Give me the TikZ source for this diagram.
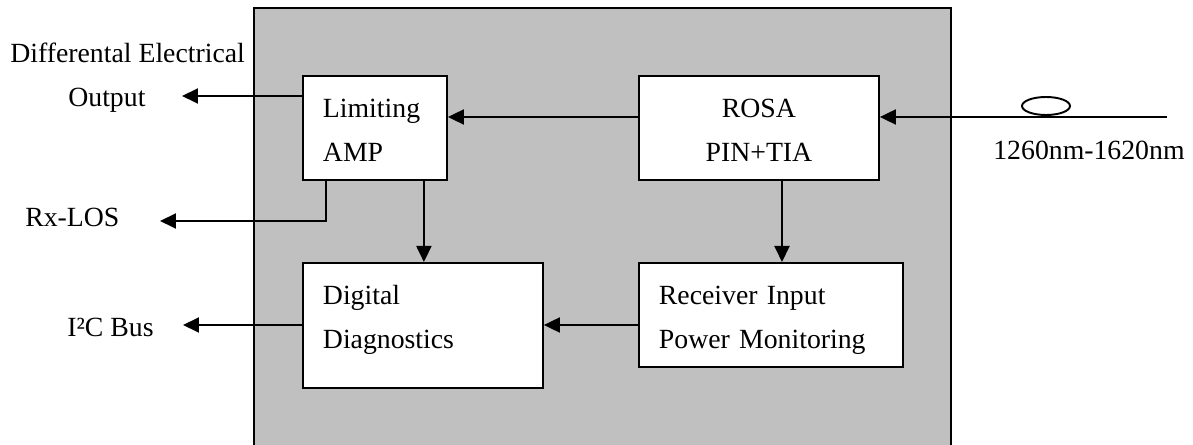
\documentclass[tikz,border=0pt]{standalone}
\usepackage{fontspec}
\setmainfont{Liberation Serif}
\usetikzlibrary{shapes.geometric,arrows.meta,calc}
\definecolor{panelgray}{RGB}{192,192,192}
\tikzstyle{block}=[draw, fill=white, line width=1.1pt, anchor=north west, inner xsep=0.4cm, inner ysep=0pt, align=left, text height=0.84cm]
\tikzstyle{sig}=[inner sep=0pt, anchor=base west]
\tikzstyle{arrow}=[line width=1.1pt,-{Triangle[length=0.32cm,width=0.3cm]}]
\begin{document}
\begin{tikzpicture}[x=0.02cm,y=-0.02cm,font=\fontsize{15.8pt}{25pt}\selectfont]
    \useasboundingbox (0,0) rectangle (1193,445);
    \draw[fill=panelgray,line width=1.1pt] (254,8) rectangle (951,470);
    \node (lim) [block,text width=2.08cm,text depth=1.24cm] at (302,75) {Limiting\\AMP};
    \node (rosa) [block,align=center,text width=4cm,text depth=1.24cm] at (638,75) {ROSA\\PIN+TIA};
    \node (dig) [block,text width=4cm,text depth=1.66cm] at (302,262) {Digital\\Diagnostics};
    \node (rx) [block,text width=4.48cm,text depth=1.24cm] at (638,262) {Receiver Input\\Power Monitoring};
    \node (diff) [sig] at (10,63) {Differental Electrical};
    \node (out) [sig] at (68,107) {Output};
    \node (los) [sig] at (25,227) {Rx-LOS};
    \node (bus) [sig] at (67,337) {I²C Bus};
    \node (wl) [sig] at (993,160) {1260nm-1620nm};
    \node (loop) [draw,ellipse,line width=1.1pt,minimum width=0.96cm,minimum height=0.36cm,inner sep=0pt] at (1046,106) {};
    \coordinate (outtip) at (182,96);
    \coordinate (lostip) at (160,221);
    \coordinate (bustip) at (183,325);
    \coordinate (fibre) at (1167,117);
    \coordinate (ld) at ($(lim.south east)+(-24,0)$);
    \coordinate (rd) at ($(rosa.south west)+(144,0)$);
    \draw[arrow] (outtip -| lim.west) -- (outtip);
    \draw[arrow] ($(lim.south west)+(24,0)$) |- (lostip);
    \draw[arrow] (fibre) -- (fibre -| rosa.east);
    \draw[arrow] (fibre -| rosa.west) -- (fibre -| lim.east);
    \draw[arrow] (ld) -- (ld |- dig.north);
    \draw[arrow] (rd) -- (rd |- rx.north);
    \draw[arrow] (bustip -| rx.west) -- (bustip -| dig.east);
    \draw[arrow] (dig.west |- bustip) -- (bustip);
\end{tikzpicture}
\end{document}
